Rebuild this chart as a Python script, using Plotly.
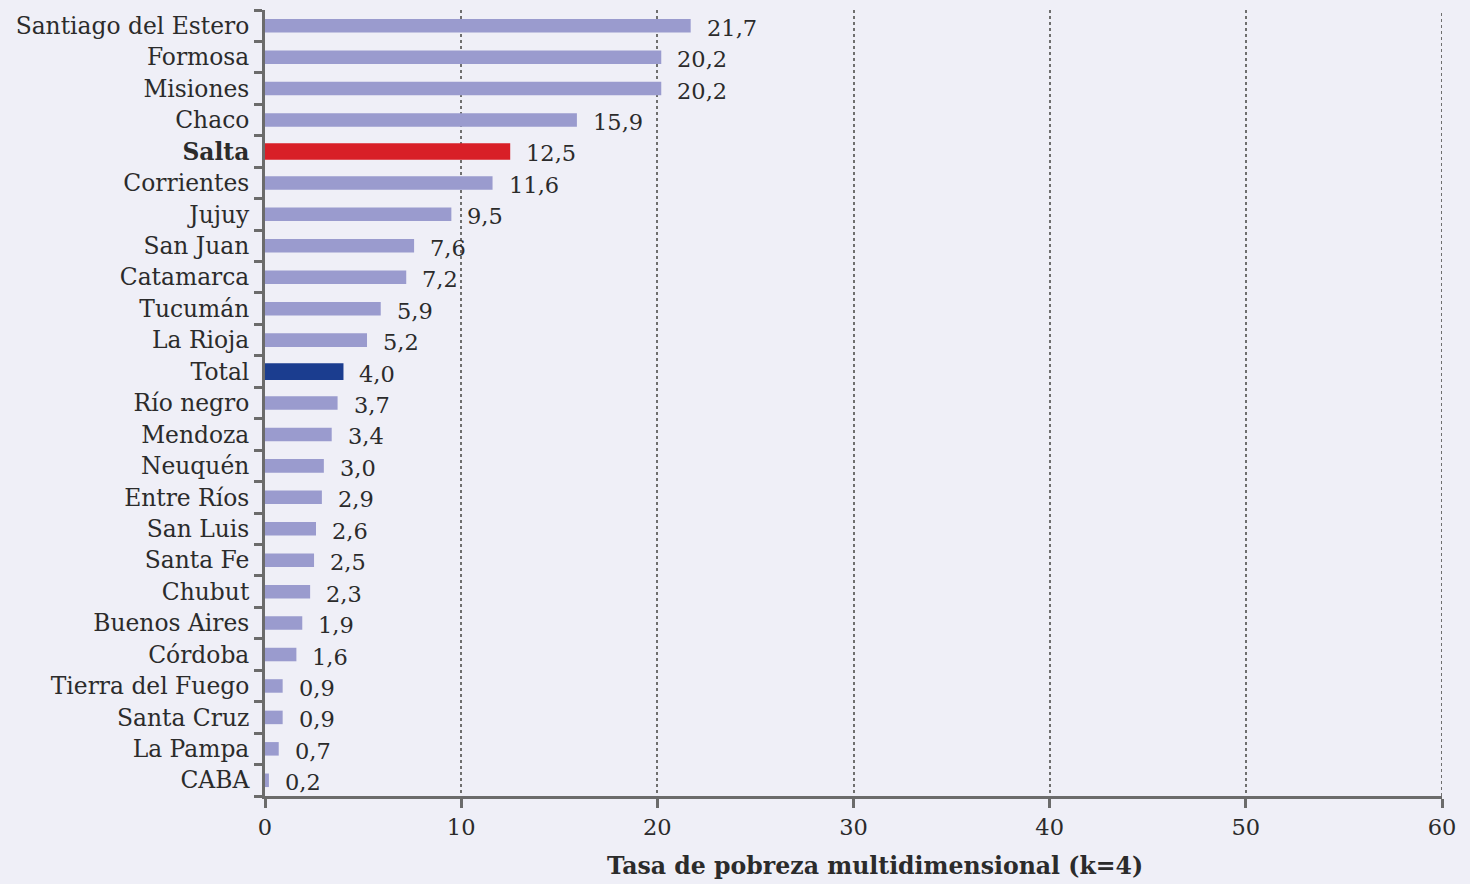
import plotly.graph_objects as go

provinces = ["Santiago del Estero", "Formosa", "Misiones", "Chaco", "Salta", "Corrientes",
             "Jujuy", "San Juan", "Catamarca", "Tucumán", "La Rioja", "Total", "Río negro",
             "Mendoza", "Neuquén", "Entre Ríos", "San Luis", "Santa Fe", "Chubut",
             "Buenos Aires", "Córdoba", "Tierra del Fuego", "Santa Cruz", "La Pampa", "CABA"]
values = [21.7, 20.2, 20.2, 15.9, 12.5, 11.6, 9.5, 7.6, 7.2, 5.9, 5.2, 4.0, 3.7,
          3.4, 3.0, 2.9, 2.6, 2.5, 2.3, 1.9, 1.6, 0.9, 0.9, 0.7, 0.2]
x_ticks = [0, 10, 20, 30, 40, 50, 60]
x_title = "Tasa de pobreza multidimensional (k=4)"

BG = "#EFEFF7"
BAR = "#9A9BCE"
RED = "#D81F27"
BLUE = "#1B3D8F"
TXT = "#2B2B2B"
AXIS = "#6B6B6B"
GRID = "#6F6F6F"
FONT = "DejaVu Serif"

colors = [RED if p == "Salta" else BLUE if p == "Total" else BAR for p in provinces]
widths = [0.53 if p in ("Salta", "Total") else 0.43 for p in provinces]
ticktext = [f"<b>{p}</b>" if p == "Salta" else p for p in provinces]

fig = go.Figure()
fig.add_trace(go.Bar(
    y=provinces, x=values, orientation="h",
    marker=dict(color=colors, line=dict(width=0)),
    width=widths, hoverinfo="skip",
))
for p, v in zip(provinces, values):
    fig.add_annotation(x=v, y=p, text=f"{v:.1f}".replace(".", ","), showarrow=False,
                       xanchor="left", yanchor="middle", xshift=14, yshift=-2,
                       font=dict(family=FONT, size=22.5, color=TXT))

# dotted gridline at the last tick (plotly omits the grid line on the range edge)
fig.add_shape(type="line", xref="x", yref="paper", x0=x_ticks[-1], x1=x_ticks[-1], y0=0, y1=1,
              line=dict(color=GRID, width=2, dash="dot"), layer="below")

fig.add_annotation(x=0.518, y=0, xref="paper", yref="paper", yanchor="top", yshift=-54,
                   text=f"<b>{x_title}</b>", showarrow=False,
                   font=dict(family=FONT, size=23.6, color=TXT))

fig.update_layout(
    width=1470, height=884,
    paper_bgcolor=BG, plot_bgcolor=BG,
    margin=dict(l=265, r=28, t=10, b=88),
    showlegend=False,
    font=dict(family=FONT, size=22, color=TXT),
    bargap=0.5,
)
fig.update_xaxes(
    range=[0, 60], tickvals=x_ticks, ticktext=[str(t) for t in x_ticks],
    showgrid=True, gridcolor=GRID, gridwidth=2, griddash="dot",
    showline=True, linecolor=AXIS, linewidth=3,
    ticks="outside", ticklen=9, tickwidth=3, tickcolor=AXIS,
    zeroline=False, tickfont=dict(family=FONT, size=22.5, color=TXT),
)
fig.update_yaxes(
    type="category", autorange=False, range=[24.5, -0.5],
    tickvals=provinces, ticktext=ticktext, tickson="boundaries",
    showline=True, linecolor=AXIS, linewidth=3,
    ticks="outside", ticklen=8, tickwidth=3, tickcolor=AXIS,
    showgrid=False, ticklabelstandoff=8,
    tickfont=dict(family=FONT, size=23.4, color=TXT),
)

fig.write_html("out.html")
